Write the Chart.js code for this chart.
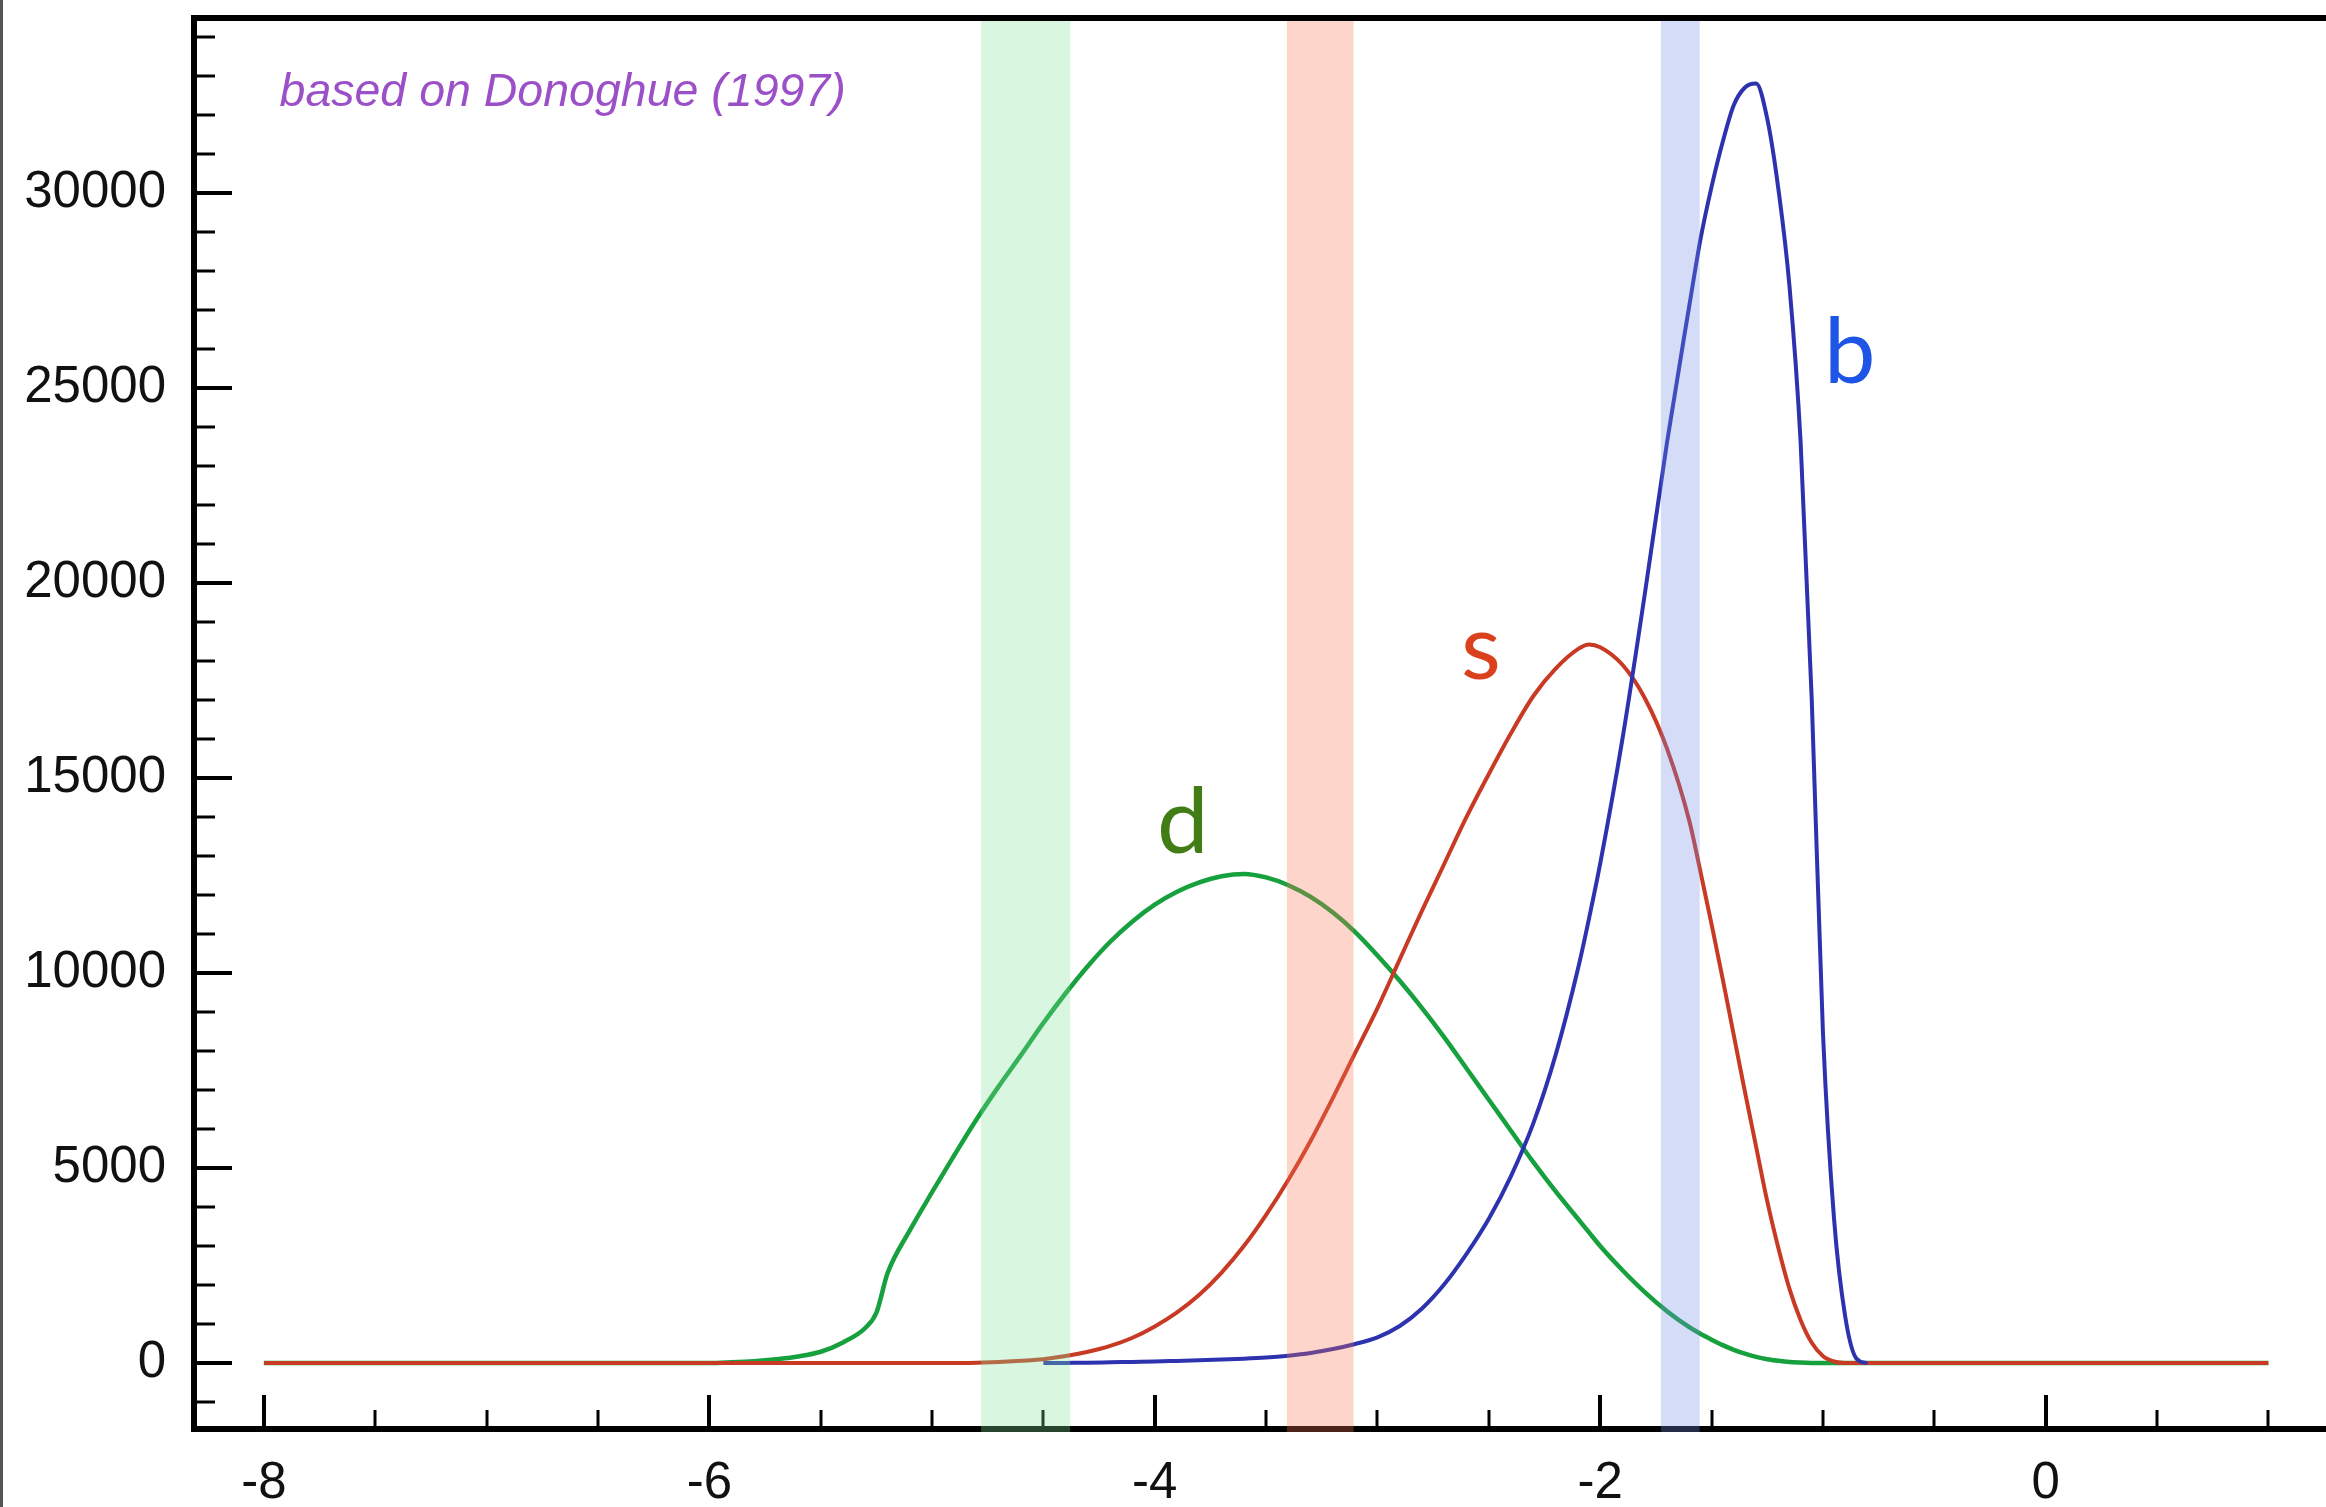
<!DOCTYPE html>
<html>
<head>
<meta charset="utf-8">
<script src="https://cdn.jsdelivr.net/npm/chart.js@4.4.1/dist/chart.umd.min.js"></script>
<style>
html,body{margin:0;padding:0;background:#fff;overflow:hidden;}
#wrap{position:relative;width:2326px;height:1507px;}
#edge{position:absolute;left:0;top:0;width:3px;height:1507px;background:#555;}
canvas{display:block;}
</style>
</head>
<body>
<div id="wrap"><canvas id="c" width="2326" height="1507"></canvas><div id="edge"></div></div>
<script>
// ---------------- data ----------------
const xGrid = [-8.0, -7.0, -6.5, -6.0, -5.9, -5.8, -5.7, -5.6, -5.5, -5.4, -5.3, -5.25, -5.2,
  -5.1, -5.0, -4.9, -4.8, -4.7, -4.6, -4.5, -4.4, -4.3, -4.2, -4.1, -4.0, -3.9, -3.8, -3.7, -3.6,
  -3.5, -3.4, -3.3, -3.2, -3.1, -3.0, -2.9, -2.8, -2.7, -2.6, -2.5, -2.4, -2.3, -2.2, -2.1, -2.05, -2.0,
  -1.9, -1.8, -1.7, -1.6, -1.55, -1.5, -1.45, -1.4, -1.35, -1.3, -1.25, -1.2, -1.15, -1.1, -1.05,
  -1.0, -0.95, -0.9, -0.85, -0.8, -0.7, -0.5, 0.0, 0.5, 1.0];

// d  (green)
const seriesD = [0, 0, 0, 0, 20, 50, 100, 170, 290, 530, 900, 1290, 2300,
  3400, 4380, 5330, 6250, 7100, 7900, 8720, 9480, 10180, 10800, 11320, 11750, 12080, 12320, 12480, 12540,
  12450, 12250, 11950, 11550, 11050, 10450, 9800, 9100, 8350, 7550, 6750, 5950, 5150, 4400, 3700, 3350, 3000,
  2380, 1820, 1330, 920, 750, 600, 460, 340, 240, 160, 100, 60, 30, 15, 5,
  0, 0, 0, 0, 0, 0, 0, 0, 0, 0];

// s  (red)
const seriesS = [0, 0, 0, 0, 0, 0, 0, 0, 0, 0, 0, 0, 0,
  0, 0, 0, 10, 30, 60, 100, 180, 290, 440, 650, 940, 1300, 1750, 2320, 3000,
  3800, 4700, 5700, 6800, 7950, 9100, 10350, 11600, 12800, 14000, 15100, 16150, 17100, 17800, 18300, 18420, 18350,
  17900, 17050, 15750, 13900, 12600, 11250, 9850, 8400, 6950, 5550, 4150, 2950, 1900, 1100, 520,
  180, 40, 0, 0, 0, 0, 0, 0, 0, 0];

// b  (blue)
const seriesB = [null, null, null, null, null, null, null, null, null, null, null, null, null,
  null, null, null, null, null, null, 0, 5, 10, 20, 30, 40, 55, 70, 90, 110,
  140, 190, 260, 360, 490, 660, 950, 1400, 2020, 2800, 3700, 4800, 6150, 7900, 10100, 11400, 12800,
  16000, 19700, 23600, 27100, 28800, 30150, 31300, 32250, 32700, 32800, 31900, 30100, 27600, 23600, 17000,
  8500, 3700, 1200, 120, 0, null, null, null, null, null];

const seriesNames = ['b', 's', 'd'];

// axis ticks
const xTickValues = [-8, -7.5, -7, -6.5, -6, -5.5, -5, -4.5, -4, -3.5, -3, -2.5, -2, -1.5, -1, -0.5, 0, 0.5, 1];
const xTickLabels = [-8, -6, -4, -2, 0];
const yTickValues = [-1000, 0, 1000, 2000, 3000, 4000, 5000, 6000, 7000, 8000, 9000, 10000, 11000,
  12000, 13000, 14000, 15000, 16000, 17000, 18000, 19000, 20000, 21000, 22000, 23000, 24000, 25000,
  26000, 27000, 28000, 29000, 30000, 31000, 32000, 33000, 34000];
const yTickLabels = [0, 5000, 10000, 15000, 20000, 25000, 30000];

// shaded bands (x ranges)
const bandD = [-4.78, -4.38];
const bandS = [-3.407, -3.107];
const bandB = [-1.727, -1.553];

// ---------------- styling ----------------
const colors = { d: '#17a03e', s: '#c93a24', b: '#2d33ae' };
const bandStyles = [
  { range: bandD, color: 'rgb(125,225,152)' },
  { range: bandS, color: 'rgb(248,115,82)' },
  { range: bandB, color: 'rgb(112,138,232)' }
];
const textMarks = [
  { text: 'd', at: [-3.99, 13080], color: '#417d14', font: '400 92px Lato' },
  { text: 's', at: [-2.625, 17530], color: '#dc411e', font: '400 92px Lato' },
  { text: 'b', at: [-0.995, 25130], color: '#1e55e6', font: '400 92px Lato' },
  { text: 'based on Donoghue (1997)', at: [-7.93, 32220], color: '#9b50c8', font: 'italic 46.5px "Liberation Sans"' }
];

const pts = arr => xGrid.map((x, i) => ({ x: x, y: arr[i] }));

const framePlugin = {
  id: 'frame',
  beforeDraw(chart) {
    const c = chart.ctx;
    c.save(); c.fillStyle = '#fff'; c.fillRect(0, 0, chart.width, chart.height); c.restore();
  },
  afterDatasetsDraw(chart) {
    const { ctx, chartArea: a, scales: { x, y } } = chart;
    ctx.save();
    ctx.strokeStyle = '#000';
    ctx.lineCap = 'butt';
    yTickValues.forEach(v => {
      const py = Math.round(y.getPixelForValue(v));
      const major = v % 5000 === 0;
      ctx.lineWidth = major ? 4 : 3;
      ctx.beginPath(); ctx.moveTo(a.left, py); ctx.lineTo(a.left + (major ? 38 : 21), py); ctx.stroke();
    });
    xTickValues.forEach(v => {
      const px = Math.round(x.getPixelForValue(v));
      const major = xTickLabels.includes(v);
      ctx.lineWidth = major ? 4 : 3;
      ctx.beginPath(); ctx.moveTo(px, a.bottom); ctx.lineTo(px, a.bottom - (major ? 34 : 19)); ctx.stroke();
    });
    ctx.lineWidth = 6;
    ctx.beginPath(); ctx.moveTo(a.left, a.top - 3); ctx.lineTo(a.left, a.bottom + 3); ctx.stroke();
    ctx.beginPath(); ctx.moveTo(a.left - 3, a.bottom); ctx.lineTo(a.right, a.bottom); ctx.stroke();
    ctx.globalAlpha = 0.3;
    bandStyles.forEach(b => {
      const x0 = x.getPixelForValue(b.range[0]);
      const x1 = x.getPixelForValue(b.range[1]);
      ctx.fillStyle = b.color;
      ctx.fillRect(x0, a.top + 3, x1 - x0, (a.bottom + 3) - (a.top + 3));
    });
    ctx.globalAlpha = 1;
    ctx.lineWidth = 6;
    ctx.beginPath(); ctx.moveTo(a.left - 3, a.top); ctx.lineTo(a.right, a.top); ctx.stroke();
    textMarks.forEach(t => {
      ctx.font = t.font;
      ctx.fillStyle = t.color;
      ctx.textAlign = 'left';
      ctx.textBaseline = 'alphabetic';
      ctx.fillText(t.text, x.getPixelForValue(t.at[0]), y.getPixelForValue(t.at[1]));
    });
    ctx.restore();
  }
};

const zeroPad = s => { s.paddingTop = 0; s.paddingBottom = 0; s.paddingLeft = 0; s.paddingRight = 0; };

new Chart(document.getElementById('c'), {
  type: 'line',
  data: {
    datasets: [
      { label: seriesNames[0], data: pts(seriesB), borderColor: colors.b, borderWidth: 4 },
      { label: seriesNames[1], data: pts(seriesS), borderColor: colors.s, borderWidth: 4 },
      { label: seriesNames[2], data: pts(seriesD), borderColor: colors.d, borderWidth: 4.5 }
    ]
  },
  options: {
    responsive: false,
    animation: false,
    devicePixelRatio: 1,
    layout: { padding: { top: 18, right: 0, left: 0, bottom: 0 } },
    elements: {
      point: { radius: 0, hoverRadius: 0 },
      line: { cubicInterpolationMode: 'monotone', fill: false, borderJoinStyle: 'round' }
    },
    plugins: { legend: { display: false }, tooltip: { enabled: false } },
    scales: {
      x: {
        type: 'linear', min: -8.314, max: 1.259,
        afterBuildTicks: s => { s.ticks = xTickValues.map(v => ({ value: v })); },
        afterFit: s => { s.height = 78; zeroPad(s); },
        grid: { display: false, drawTicks: false },
        border: { display: false },
        ticks: {
          autoSkip: false, maxRotation: 0, padding: 24, color: '#111',
          font: { family: 'Liberation Sans', size: 51 },
          callback: v => xTickLabels.includes(v) ? String(v) : ''
        }
      },
      y: {
        type: 'linear', min: -1690, max: 34480,
        afterBuildTicks: s => { s.ticks = yTickValues.map(v => ({ value: v })); },
        afterFit: s => { s.width = 194; zeroPad(s); },
        grid: { display: false, drawTicks: false },
        border: { display: false },
        ticks: {
          autoSkip: false, padding: 28, color: '#111',
          font: { family: 'Liberation Sans', size: 51 },
          callback: v => yTickLabels.includes(v) ? String(v) : ''
        }
      }
    }
  },
  plugins: [framePlugin]
});
</script>
</body>
</html>
